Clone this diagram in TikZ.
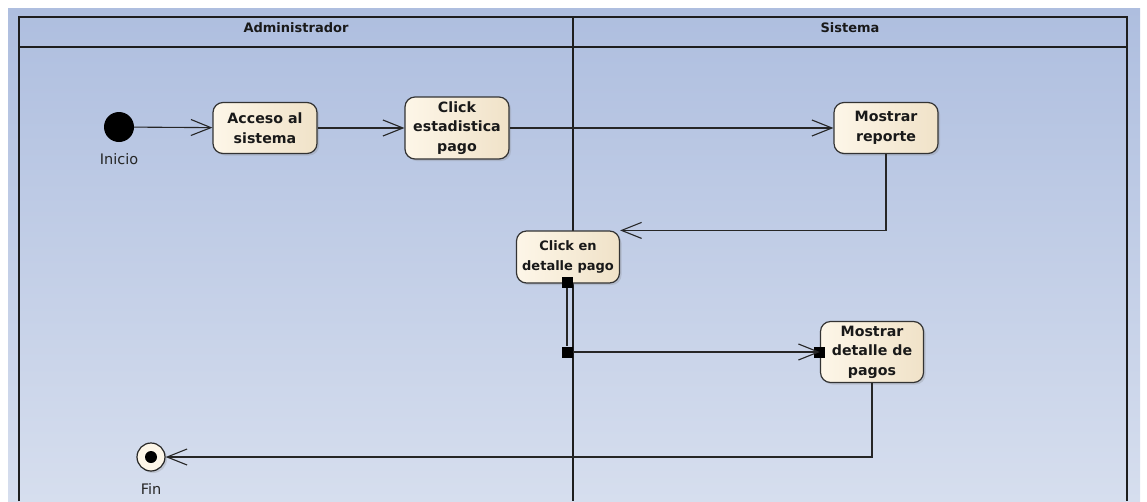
\documentclass[tikz,border=0pt]{standalone}
\usepackage{fontspec}
\setmainfont{DejaVu Sans}
\usetikzlibrary{arrows.meta, positioning, shadows}

\definecolor{bgtop}{RGB}{174,190,223}
\definecolor{bgbot}{RGB}{214,222,238}
\definecolor{actl}{RGB}{253,246,232}
\definecolor{actr}{RGB}{240,226,200}
\definecolor{lane}{RGB}{30,30,30}

\tikzset{
  act/.style={draw=black!80, line width=1.2pt, rounded corners=10pt,
    left color=actl, right color=actr, align=center, inner sep=1pt,
    font=\bfseries\fontsize{14.2}{19.5}\selectfont, text=black!90,
    drop shadow={shadow xshift=2pt, shadow yshift=-2pt, opacity=.25}},
  flow/.style={-{Straight Barb[length=20pt,width=16pt]}, line width=1.1pt, draw=black!85},
  pinbox/.style={fill=black, minimum size=11pt, inner sep=0pt},
  lanehead/.style={font=\bfseries\fontsize{13}{15}\selectfont, text=black!90},
  caption/.style={font=\fontsize{14.5}{16}\selectfont, text=black!85}
}

\begin{document}
\begin{tikzpicture}[x=1pt, y=-1pt]
  \useasboundingbox (0,0) rectangle (1147,501);

  % fondo
  \shade[top color=bgtop, bottom color=bgbot] (8,8) rectangle (1140,501);

  % carriles
  \draw[lane, line width=1.6pt] (19,501) -- (19,17) -- (1127,17) -- (1127,501);
  \draw[lane, line width=1.6pt] (19,47) -- (1127,47);
  \draw[lane, line width=1.6pt] (573,17) -- (573,501);
  \node[lanehead] (hadm) at (296,28) {Administrador};
  \node[lanehead] (hsis) at (850,28) {Sistema};

  % inicio y fin
  \node[circle, fill=black, minimum size=30pt, inner sep=0pt] (ini) at (119,127) {};
  \node[caption] (lini) at (119,159) {Inicio};
  \node[circle, draw=black!85, line width=1.2pt, fill=actl, minimum size=28pt, inner sep=0pt,
    drop shadow={shadow xshift=2pt, shadow yshift=-2pt, opacity=.25}] (fin) at (151,457) {};
  \node[circle, fill=black, minimum size=12pt, inner sep=0pt] (findot) at (fin) {};
  \node[caption] (lfin) at (151,489) {Fin};

  % actividades
  \node[act, minimum width=104pt, minimum height=51pt] (acc) at (265,128) {Acceso al\\sistema};
  \node[act, minimum width=104pt, minimum height=62pt] (est) at (457,128) {Click\\estadistica\\pago};
  \node[act, minimum width=104pt, minimum height=51pt] (rep) at (886,128) {Mostrar\\reporte};
  \node[act, minimum width=103pt, minimum height=52pt, font=\bfseries\fontsize{13}{19.5}\selectfont]
    (clk) at (568,257) {Click en\\detalle pago};
  \node[act, minimum width=103pt, minimum height=61pt] (det) at (872,352) {Mostrar\\detalle de\\pagos};

  % pines
  \node[pinbox] (p1) at (567,282) {};
  \node[pinbox] (p2) at (567,352) {};
  \node[pinbox] (p3) at (det.west) {};

  % flujos
  \draw[flow] (ini) -- (acc);
  \draw[flow] (acc) -- (est);
  \draw[flow] (est) -- (rep);
  \draw[flow] (rep.south) |- (clk.north east);
  \draw[line width=1.1pt, draw=black!85] (p1) -- (p2);
  \draw[flow] (p2) -- (p3.center);
  \draw[flow] (det.south) |- (fin);
\end{tikzpicture}
\end{document}
